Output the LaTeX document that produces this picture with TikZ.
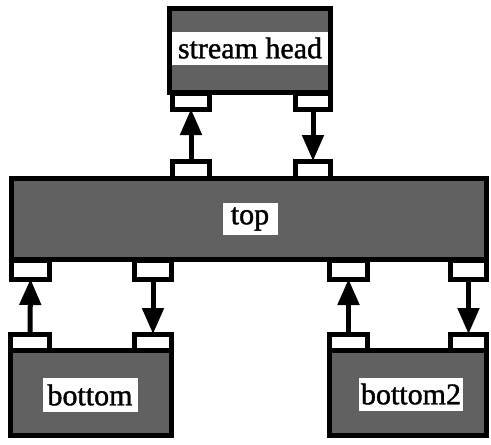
\documentclass[tikz,border=0pt]{standalone}
\usepackage{fontspec}
\setmainfont{Liberation Serif}
\newfontfamily\heavyserif{Liberation Serif}[FakeBold=1.3]
\usetikzlibrary{arrows.meta}
\begin{document}
\begin{tikzpicture}[x=1pt,y=-1pt,
  blk/.style={draw, line width=5pt, fill=black!62, rectangle, inner sep=0pt, outer sep=0pt},
  port/.style={draw, line width=5pt, fill=white, rectangle, inner sep=0pt, outer sep=0pt},
  lbl/.style={fill=white, inner sep=0pt, font=\heavyserif\fontsize{30}{30}\selectfont},
  flow/.style={line width=5pt, -{Triangle[length=26pt,width=21pt]}}]
\useasboundingbox (0,0) rectangle (491,445);
% boxes
\node[blk, minimum width=161pt, minimum height=84pt] (sh) at (250,50.5) {};
\node[blk, minimum width=475pt, minimum height=81pt] (top) at (249,219) {};
\node[blk, minimum width=161pt, minimum height=85pt] (b1) at (91,393) {};
\node[blk, minimum width=157pt, minimum height=85pt] (b2) at (408,393) {};
% stream head ports
\node[port, minimum width=37pt, minimum height=16pt] (shL) at (191,101) {};
\node[port, minimum width=35pt, minimum height=16pt] (shR) at (313,101) {};
% top upward ports
\node[port, minimum width=37pt, minimum height=17pt] (tuL) at (191,169.5) {};
\node[port, minimum width=35pt, minimum height=17pt] (tuR) at (313,169.5) {};
% top downward ports
\node[port, minimum width=38pt, minimum height=19pt] (td1) at (30.5,269.5) {};
\node[port, minimum width=37pt, minimum height=19pt] (td2) at (153,269.5) {};
\node[port, minimum width=38pt, minimum height=19pt] (td3) at (348.5,269.5) {};
\node[port, minimum width=36pt, minimum height=19pt] (td4) at (468.5,269.5) {};
% bottom ports
\node[port, minimum width=39pt, minimum height=16pt] (bp1) at (30,342) {};
\node[port, minimum width=37pt, minimum height=16pt] (bp2) at (153,342) {};
\node[port, minimum width=38pt, minimum height=16pt] (bp3) at (348.5,342) {};
\node[port, minimum width=36pt, minimum height=16pt] (bp4) at (468.5,342) {};
% labels
\node[lbl, minimum width=156pt, minimum height=33pt] (shl) at (250,48) {stream head};
\node[lbl, minimum width=55pt, minimum height=32pt] (tl) at (250,219) {top};
\node[lbl, minimum width=95pt, minimum height=34pt] (b1l) at (90,395) {bottom};
\node[lbl, minimum width=104pt, minimum height=33pt] (b2l) at (411,394) {bottom2};
% connectors
\draw[flow] (tuL.north) -- (shL.south);
\draw[flow] (shR.south) -- (tuR.north);
\draw[flow] (bp1.north) -- (td1.south);
\draw[flow] (td2.south) -- (bp2.north);
\draw[flow] (bp3.north) -- (td3.south);
\draw[flow] (td4.south) -- (bp4.north);
\end{tikzpicture}
\end{document}
